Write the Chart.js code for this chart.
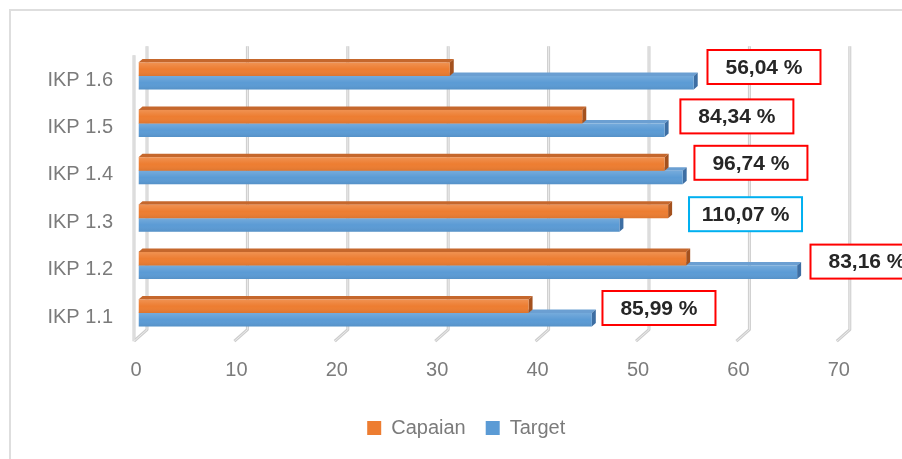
<!DOCTYPE html>
<html>
<head>
<meta charset="utf-8">
<script src="https://cdn.jsdelivr.net/npm/chart.js@4.4.1/dist/chart.umd.min.js"></script>
<style>
html,body{margin:0;padding:0;background:#fff;overflow:hidden}
#wrap{width:902px;height:459px;position:relative}
</style>
</head>
<body>
<div id="wrap"><canvas id="c" width="902" height="459"></canvas></div>
<script>
// ---- data (top to bottom as displayed) ----
const categories = ["IKP 1.6", "IKP 1.5", "IKP 1.4", "IKP 1.3", "IKP 1.2", "IKP 1.1"];
const capaian = [31.0, 44.2, 52.4, 52.75, 54.55, 38.85];
const target  = [55.3, 52.4, 54.2, 47.9, 65.6, 45.15];
const percentLabels = ["56,04 %", "84,34 %", "96,74 %", "110,07 %", "83,16 %", "85,99 %"];
const xTicks = [0, 10, 20, 30, 40, 50, 60, 70];
const seriesNames = ["Capaian", "Target"];

// ---- annotation layout (positions in axis units / pixel offsets) ----
const boxCenterX = [62.3, 59.6, 61.0, 60.46, 72.56, 51.84];
const boxOffsetY = [-9, -7, -8, -4, -4, -5];
const boxColors = ["#ff0000", "#ff0000", "#ff0000", "#00b0f0", "#ff0000", "#ff0000"];

const FONT = "'Liberation Sans', Arial, sans-serif";
Chart.defaults.font.family = FONT;
Chart.defaults.font.size = 20;
Chart.defaults.color = '#7b7b7b';

const DX = 4, DY = 3.5;

const frame = {
  id: 'frame',
  beforeDraw(chart) {
    const ctx = chart.ctx;
    ctx.save();
    ctx.fillStyle = '#ffffff';
    ctx.fillRect(0, 0, chart.width, chart.height);
    ctx.strokeStyle = '#dedede';
    ctx.lineWidth = 2;
    ctx.strokeRect(10, 10, chart.width + 50, chart.height + 50);
    ctx.restore();
  }
};

const walls = {
  id: 'walls',
  beforeDatasetsDraw(chart) {
    const ctx = chart.ctx, xs = chart.scales.x, ca = chart.chartArea;
    const paths = [];
    xs.ticks.forEach(t => {
      const px = xs.getPixelForValue(t.value) + 8.5;
      paths.push([[px, ca.top - 6], [px, ca.bottom - 7], [px - 13, ca.bottom + 4.5]]);
    });
    const x0 = xs.getPixelForValue(0) + 8.5 - 13;
    paths.push([[x0, ca.top + 3], [x0, ca.bottom + 4.5]]);
    ctx.save();
    ctx.lineJoin = 'round';
    [[3, '#cdcdcd'], [1, '#ececec']].forEach(([w, c]) => {
      ctx.lineWidth = w; ctx.strokeStyle = c;
      paths.forEach(p => {
        ctx.beginPath();
        ctx.moveTo(p[0][0], p[0][1]);
        for (let i = 1; i < p.length; i++) ctx.lineTo(p[i][0], p[i][1]);
        ctx.stroke();
      });
    });
    ctx.restore();
  }
};

const bars3d = {
  id: 'bars3d',
  beforeDatasetDraw(chart, args) {
    const ctx = chart.ctx, ds = chart.data.datasets[args.index];
    ctx.save();
    args.meta.data.forEach(el => {
      const {x, y, base, height} = el.getProps(['x', 'y', 'base', 'height'], true);
      const top = y - height / 2, bottom = y + height / 2;
      ctx.fillStyle = ds.topColor;
      ctx.beginPath();
      ctx.moveTo(base, top); ctx.lineTo(base + DX, top - DY);
      ctx.lineTo(x + DX, top - DY); ctx.lineTo(x, top); ctx.closePath(); ctx.fill();
      ctx.fillStyle = ds.sideColor;
      ctx.beginPath();
      ctx.moveTo(x, top); ctx.lineTo(x + DX, top - DY);
      ctx.lineTo(x + DX, bottom - DY); ctx.lineTo(x, bottom); ctx.closePath(); ctx.fill();
    });
    ctx.restore();
  },
  afterDatasetDraw(chart, args) {
    const ctx = chart.ctx;
    ctx.save();
    args.meta.data.forEach(el => {
      const {x, y, base, height} = el.getProps(['x', 'y', 'base', 'height'], true);
      const top = y - height / 2;
      const g = ctx.createLinearGradient(0, top, 0, top + height);
      g.addColorStop(0, 'rgba(255,255,255,0.16)');
      g.addColorStop(0.5, 'rgba(255,255,255,0.0)');
      g.addColorStop(1, 'rgba(0,0,0,0.07)');
      ctx.fillStyle = g;
      ctx.fillRect(base, top, x - base, height);
    });
    ctx.restore();
  }
};

const boxes = {
  id: 'boxes',
  afterDatasetsDraw(chart) {
    const ctx = chart.ctx, xs = chart.scales.x, ys = chart.scales.y;
    ctx.save();
    percentLabels.forEach((txt, i) => {
      const cx = xs.getPixelForValue(boxCenterX[i]);
      const cy = ys.getPixelForValue(i) + boxOffsetY[i];
      const w = 113, h = 34;
      ctx.fillStyle = '#ffffff';
      ctx.fillRect(cx - w / 2, cy - h / 2, w, h);
      ctx.strokeStyle = boxColors[i];
      ctx.lineWidth = 2;
      ctx.strokeRect(cx - w / 2, cy - h / 2, w, h);
      ctx.fillStyle = '#262626';
      ctx.font = "bold 21px " + FONT;
      ctx.textAlign = 'center';
      ctx.textBaseline = 'middle';
      ctx.fillText(txt, cx, cy + 1);
    });
    ctx.restore();
  }
};

new Chart(document.getElementById('c'), {
  type: 'bar',
  data: {
    labels: categories,
    datasets: [
      { label: seriesNames[0], data: capaian, backgroundColor: '#ED7D31', topColor: '#C5672C', sideColor: '#A4511E' },
      { label: seriesNames[1], data: target, backgroundColor: '#5B9BD5', topColor: '#6B9FD2', sideColor: '#3D6EA3' }
    ]
  },
  options: {
    indexAxis: 'y',
    responsive: false,
    animation: false,
    devicePixelRatio: 1,
    layout: { padding: { left: 46, right: 15.5, top: 52.3, bottom: 11 } },
    datasets: { bar: { categoryPercentage: 0.57, barPercentage: 1, borderWidth: 0 } },
    scales: {
      x: {
        min: 0, max: 70,
        afterBuildTicks: s => { s.ticks = xTicks.map(v => ({ value: v })); },
        ticks: { padding: 21.3, labelOffset: -2.5, color: '#7b7b7b', font: { size: 20 } },
        grid: { display: false, drawTicks: false },
        border: { display: false },
        afterFit: s => { s.height = 61.3; }
      },
      y: {
        ticks: { padding: 25.5, labelOffset: 4, color: '#7b7b7b', font: { size: 20 } },
        grid: { display: false, drawTicks: false },
        border: { display: false },
        afterFit: s => { s.width = 92.5; }
      },
      yPad: {
        type: 'category',
        axis: 'y',
        position: 'right',
        display: true,
        ticks: { display: false },
        grid: { display: false, drawTicks: false },
        border: { display: false },
        afterFit: s => { s.width = 45.2; }
      }
    },
    plugins: {
      legend: {
        position: 'bottom',
        labels: { boxWidth: 14, boxHeight: 14, padding: 20, color: '#7b7b7b', font: { size: 20 } }
      },
      tooltip: { enabled: false }
    }
  },
  plugins: [frame, walls, bars3d, boxes]
});
</script>
</body>
</html>
